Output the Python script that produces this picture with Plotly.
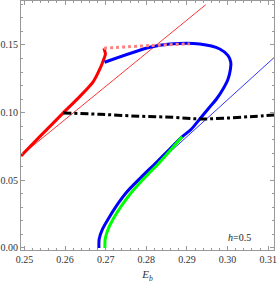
import plotly.graph_objects as go

# ---- data ----
red_x = [0.24914, 0.25400, 0.25954, 0.26370, 0.26690, 0.26856, 0.26938, 0.26992, 0.26955]
red_y = [0.06800, 0.08300, 0.09980, 0.11220, 0.12280, 0.13230, 0.13840, 0.14335, 0.14757]

red_tan_x = [0.24914, 0.29463]
red_tan_y = [0.06835, 0.17978]

pink_x = [0.26955, 0.28086, 0.29069]
pink_y = [0.14757, 0.14960, 0.15080]

blue_x = [0.26972, 0.28086, 0.28578, 0.29315, 0.29807, 0.30011, 0.30078, 0.30070, 0.30011,
          0.29888, 0.29726, 0.29519, 0.29315, 0.29111, 0.28865, 0.28578, 0.28251, 0.27870,
          0.27513, 0.27267, 0.27061, 0.26923, 0.26839, 0.26832]
blue_y = [0.13722, 0.14830, 0.15074, 0.15074, 0.14705, 0.14210, 0.13722, 0.13227, 0.12488,
          0.11749, 0.11010, 0.10271, 0.09532, 0.08793, 0.08180, 0.07315, 0.06333, 0.05224,
          0.04116, 0.03126, 0.02143, 0.01404, 0.00665, 0.00000]

green_x = [0.28880, 0.28619, 0.28290, 0.27970, 0.27636, 0.27390, 0.27183, 0.27060, 0.26987, 0.26979]
green_y = [0.08220, 0.07315, 0.06210, 0.05224, 0.04116, 0.03126, 0.02143, 0.01404, 0.00665, 0.00000]

blue_tan_x = [0.27717, 0.31160]
blue_tan_y = [0.04730, 0.14114]

black_x = [0.25954, 0.26856, 0.27840, 0.28659, 0.29315, 0.29888, 0.30544, 0.31142]
black_y = [0.09976, 0.09880, 0.09732, 0.09658, 0.09532, 0.09584, 0.09702, 0.09828]

x_ticks = [0.25, 0.26, 0.27, 0.28, 0.29, 0.30, 0.31]
y_ticks = [0.00, 0.05, 0.10, 0.15]

fig = go.Figure()
fig.add_trace(go.Scatter(x=red_tan_x, y=red_tan_y, mode="lines",
                         line=dict(color="#ff0000", width=0.8)))
fig.add_trace(go.Scatter(x=blue_tan_x, y=blue_tan_y, mode="lines",
                         line=dict(color="#0000ff", width=0.8)))
fig.add_trace(go.Scatter(x=red_x, y=red_y, mode="lines",
                         line=dict(color="#ff0000", width=3, shape="spline", smoothing=0.6)))
fig.add_trace(go.Scatter(x=blue_x, y=blue_y, mode="lines",
                         line=dict(color="#0000ff", width=3, shape="spline", smoothing=0.8)))
fig.add_trace(go.Scatter(x=green_x, y=green_y, mode="lines",
                         line=dict(color="#00ff00", width=3, shape="spline", smoothing=0.8)))
fig.add_trace(go.Scatter(x=pink_x, y=pink_y, mode="lines",
                         line=dict(color="#ff8080", width=3, dash="3px,3px", shape="spline")))
fig.add_trace(go.Scatter(x=black_x, y=black_y, mode="lines",
                         line=dict(color="#000000", width=3, dash="8px,3px,3px,3px", shape="spline")))

fig.add_annotation(x=0.3030, y=0.0074, text="<i>h</i>=0.5", showarrow=False,
                   xanchor="center", yanchor="middle",
                   font=dict(family="Liberation Serif", size=10, color="#222"))

axis_common = dict(showgrid=False, zeroline=False, showline=True, linecolor="#999",
                   linewidth=1, mirror="ticks", ticks="inside", ticklen=4, tickcolor="#999",
                   tickfont=dict(family="Liberation Serif", size=10, color="#333"),
                   automargin=False)

fig.update_xaxes(range=[0.24914, 0.31142], tickvals=x_ticks, tickformat=".2f",
                 minor=dict(ticks="inside", dtick=0.002, tick0=0.25, ticklen=2, tickcolor="#999"),
                 title=dict(text="<i>E</i><sub><i>b</i></sub>", standoff=6,
                            font=dict(family="Liberation Serif", size=11, color="#333")),
                 **axis_common)
fig.update_yaxes(range=[-0.0015, 0.1825], tickvals=y_ticks, tickformat=".2f",
                 minor=dict(ticks="inside", dtick=0.01, tick0=0, ticklen=2, tickcolor="#999"),
                 **axis_common)

fig.update_layout(width=278, height=289, showlegend=False,
                  margin=dict(l=21, r=4, t=1, b=39),
                  plot_bgcolor="white", paper_bgcolor="white")

fig.write_html("out.html", config={"displayModeBar": False},
               post_script="document.body.style.margin='0';document.body.style.overflow='hidden';")
